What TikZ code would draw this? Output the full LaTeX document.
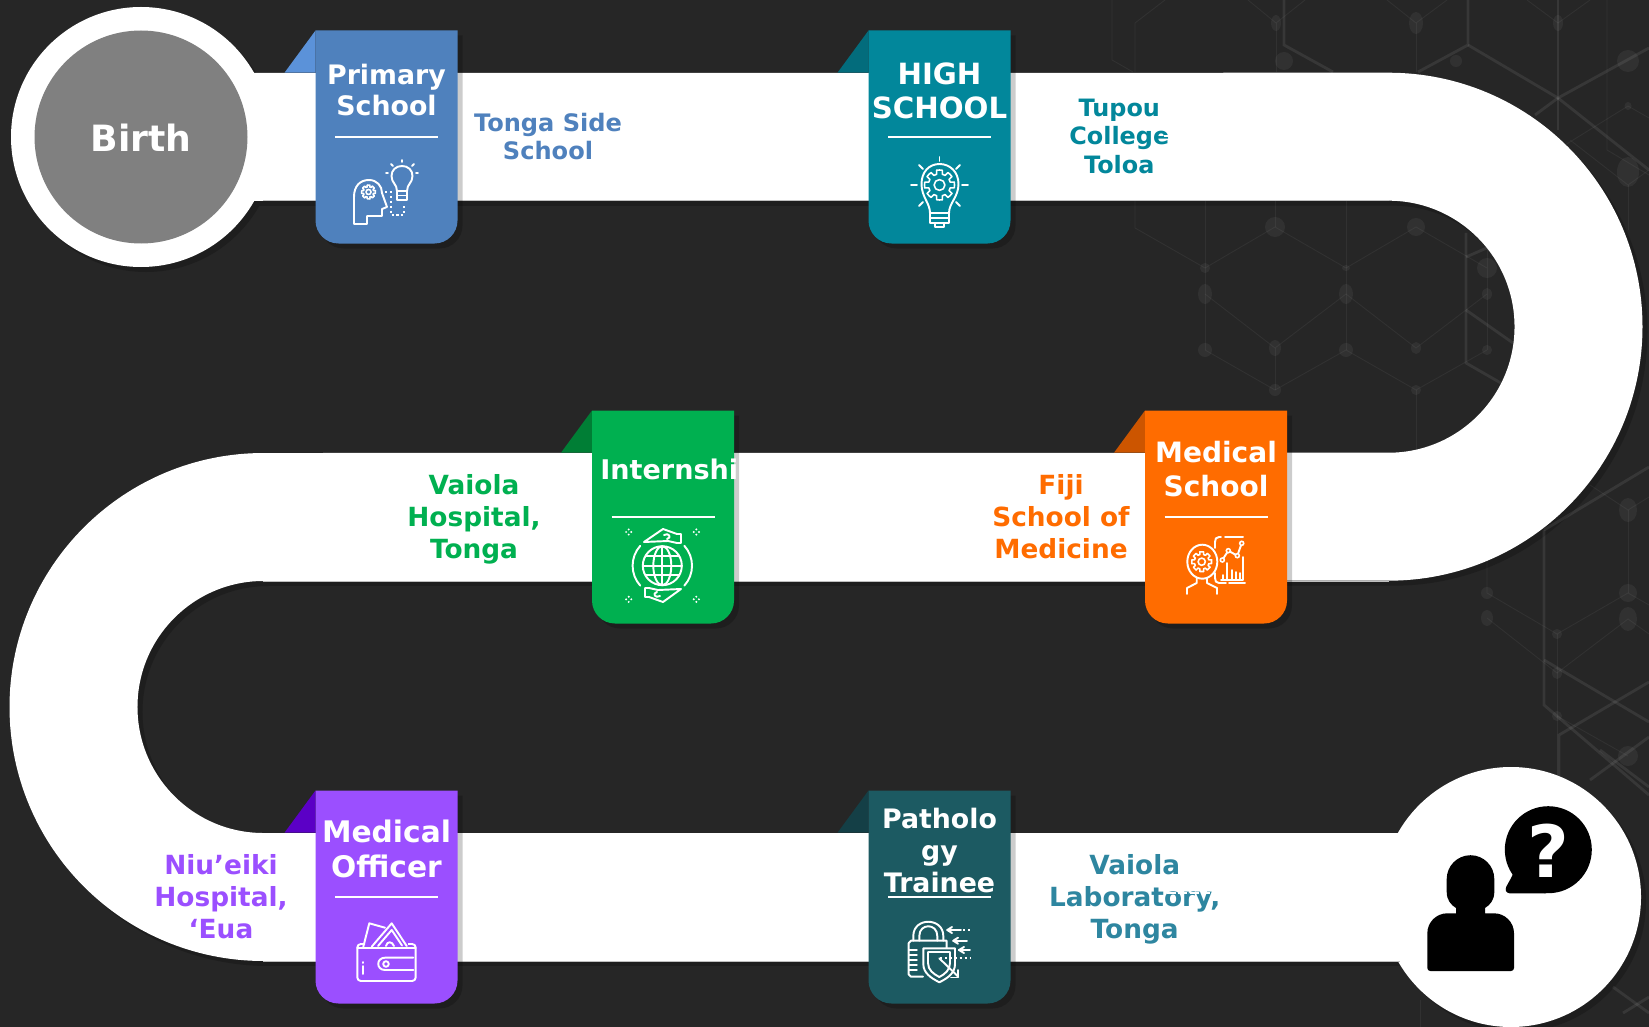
\documentclass[tikz,border=0pt]{standalone}
\usepackage{fontspec}
\setmainfont{DejaVu Sans}
\definecolor{bgdark}{HTML}{262626}
\definecolor{shadedark}{HTML}{1E1E1E}
\definecolor{birthgray}{HTML}{808080}
\definecolor{primaryblue}{HTML}{4F81BD}
\definecolor{primaryfold}{HTML}{5B92D9}
\definecolor{highteal}{HTML}{02879B}
\definecolor{highfold}{HTML}{036C7C}
\definecolor{interngreen}{HTML}{00B050}
\definecolor{internfold}{HTML}{007E35}
\definecolor{medorange}{HTML}{FF6C00}
\definecolor{medfold}{HTML}{CC5500}
\definecolor{officerpurple}{HTML}{9B4FFF}
\definecolor{officerfold}{HTML}{5B00C6}
\definecolor{pathteal}{HTML}{1C5A62}
\definecolor{pathfold}{HTML}{143F46}
\definecolor{labblue}{HTML}{2E86A0}
\tikzset{
	title/.style={white,inner sep=0,align=center,anchor=base},
	place/.style={inner sep=0,align=center,anchor=base},
	iconline/.style={white,line width=1.1pt,line cap=round,line join=round},
	dotline/.style={white,line width=1.1pt,dash pattern=on 1.2pt off 1.6pt},
	rulewhite/.style={white,line width=1.1pt},
	bgthin/.style={white,opacity=.05,line width=.5pt},
	bgthick/.style={white,opacity=.08,line width=1.6pt},
	bgdot/.style={white,opacity=.05},
	roadedge/.style={gray!50,line width=.5pt}
}
\newcommand{\roadpath}{(141,137) -- (1388.5,136.7) arc (-90:90:190) -- (263.5,517) arc (-90:-270:190) -- (1511,897)}
\newcommand{\ribbon}[4]{
	\begin{scope}[shift={(#1,#2)}]
		\fill[black,opacity=.2] (5,5) -- (147,5) -- (147,195) arc (0:90:23) -- (28,218) arc (90:180:23) -- cycle;
		\fill[#4] (-31,42.2) -- (0,0) -- (0,42.2) -- cycle;
		\fill[#3] (0,0) -- (142,0) -- (142,190) arc (0:90:23) -- (23,213) arc (90:180:23) -- cycle;
		\draw[rulewhite] (19.5,106.2) -- (122.5,106.2);
	\end{scope}
}
\newcommand{\gearicon}[3]{
	\foreach \a in {0,45,...,315}
		\draw[iconline,line width=.9pt] (#1,#2) ++(\a-11:#3) arc (\a-11:\a+11:#3) -- ($(#1,#2)+(\a+15:.74*#3)$) arc (\a+15:\a+30:.74*#3) -- ($(#1,#2)+(\a+34:#3)$);
	\draw[iconline,line width=.9pt] (#1,#2) circle (.36*#3);
}
\newcommand{\sparkle}[2]{
	\foreach \dx/\dy in {-2.6/0,2.6/0,0/-2.6,0/2.6}
		\fill[white] (#1+\dx,#2+\dy) circle (1.1);
}
\usetikzlibrary{calc}
\begin{document}
\begin{tikzpicture}[x=.02cm,y=-.02cm]
	\useasboundingbox (0,0) rectangle (1649,1027);
	\fill[bgdark] (0,0) rectangle (1649,1027);
	\begin{scope}[shift={(5,5)}]
		\draw[shadedark,line width=2.56cm] \roadpath;
		\fill[shadedark] (141,137) circle (130);
		\fill[shadedark] (1511,897) circle (130);
	\end{scope}
	\foreach \x/\y/\rx/\ry in {1276/23/5/8,1416/23/7/11,1558/23/5/8,1284/61/9/9,1456/61/6/6,1628/61/11/11,1628/106/3.5/4,1628/172/11/15,1275/227/10/10,1416/227/9/9,1205/268/5/5,1346/268/4/3,1487/268/10/10,1205/294/7/10,1346/294/7/10,1487/294/5/6,1205/350/7/7,1275/348/6/8,1346/350/7/7,1416/348/5/6,1487/350/5/5,1275/390/6/6,1416/390/5/5,1628/510/9/12,1487/593/6/6,1628/593/9/9,1487/618/6/8,1628/619/9/12,1557/634/5/5,1557/673/5/6,1557/716/5/5,1628/756/10/10}
		\fill[bgdot] (\x,\y) ellipse (\rx*.02cm and \ry*.02cm);
	\draw[bgthin] (1112,0) -- (1112,60) -- (1133,72);
	\draw[bgthin] (1135,72) -- (1135,23) -- (1165,0);
	\draw[bgthin] (1205,200) -- (1205,350);
	\draw[bgthin] (1276,23) -- (1248,0);
	\draw[bgthin] (1276,23) -- (1305,0);
	\draw[bgthin] (1276,23) -- (1276,72);
	\draw[bgthin] (1416,23) -- (1387,0);
	\draw[bgthin] (1416,23) -- (1447,0);
	\draw[bgthin] (1416,23) -- (1416,72);
	\draw[bgthin] (1558,23) -- (1527,0);
	\draw[bgthin] (1558,23) -- (1590,0);
	\draw[bgthin] (1628,106) -- (1565,145);
	\draw[bgthin] (1628,106) -- (1649,118);
	\draw[bgthin] (1607,0) -- (1607,150) -- (1649,175);
	\draw[bgthin] (1570,140) -- (1628,185) -- (1649,170);
	\draw[bgthin] (1628,185) -- (1628,230);
	\draw[bgthin] (1135,200) -- (1135,228) -- (1205,268) -- (1275,227) -- (1346,268) -- (1416,227) -- (1487,268);
	\draw[bgthin] (1205,294) -- (1275,348) -- (1346,294) -- (1416,348) -- (1487,294);
	\draw[bgthin] (1205,350) -- (1275,390) -- (1346,350) -- (1416,390) -- (1487,350);
	\draw[bgthin] (1275,200) -- (1275,227);
	\draw[bgthin] (1275,348) -- (1275,390);
	\draw[bgthin] (1346,200) -- (1346,350);
	\draw[bgthin] (1416,390) -- (1416,453);
	\draw[bgthin] (1487,230) -- (1487,350);
	\draw[bgthin] (1487,560) -- (1487,593) -- (1557,634) -- (1628,593) -- (1649,605);
	\draw[bgthin] (1487,618) -- (1557,673) -- (1628,619) -- (1649,634);
	\draw[bgthin] (1557,634) -- (1557,800);
	\draw[bgthin] (1557,716) -- (1628,756);
	\draw[bgthin] (1590,485) -- (1628,510) -- (1649,497);
	\draw[bgthin] (1628,510) -- (1628,593);
	\draw[bgthin] (1420,1000) -- (1420,1027);
	\draw[bgthick] (1284,0) -- (1284,45) -- (1333,72);
	\draw[bgthick] (1468,0) -- (1468,45) -- (1418,72);
	\draw[bgthick] (1468,45) -- (1558,98) -- (1649,48);
	\draw[bgthick] (1558,0) -- (1558,130);
	\draw[bgthick] (1558,98) -- (1649,170);
	\draw[bgthick] (1558,98) -- (1535,115);
	\draw[bgthick] (1466,233) -- (1466,363) -- (1513,390);
	\draw[bgthick] (1466,310) -- (1513,343);
	\draw[bgthick] (1466,257) -- (1489,247);
	\draw[bgthick] (1544,530) -- (1544,705) -- (1649,795);
	\draw[bgthick] (1544,530) -- (1649,467);
	\draw[bgthick] (1544,660) -- (1649,722);
	\draw[bgthick] (1559,790) -- (1559,735) -- (1649,682);
	\draw[bgthick] (1590,780) -- (1649,737);
	\draw[bgthick] (1600,750) -- (1649,787);
	\draw[bgthick] (1613,987) -- (1649,1013);
	\draw[bgthick] (1623,1013) -- (1649,997);
	\draw[white,line width=2.56cm] \roadpath;
	\fill[white] (141,137) circle (130);
	\fill[white] (1511,897) circle (130);
	\draw[roadedge] (263,200.7) -- (1389,200.7);
	\draw[roadedge] (263,581) -- (1389,581);
	\draw[roadedge] (263,961) -- (1400,961);
	\fill[birthgray] (141,137) circle (106.5);
	\node[title,font=\fontsize{20.6}{24}\selectfont\bfseries] (birth) at (141,151.5) {Birth};
	\ribbon{315.5}{30.5}{primaryblue}{primaryfold}
	\ribbon{868.5}{30.5}{highteal}{highfold}
	\ribbon{592}{410.5}{interngreen}{internfold}
	\ribbon{1145}{410.5}{medorange}{medfold}
	\ribbon{315.5}{790.5}{officerpurple}{officerfold}
	\ribbon{868.5}{790.5}{pathteal}{pathfold}
	\node[title,font=\fontsize{15.25}{18.2}\selectfont\bfseries] (primary) at (386.5,116) {Primary\\School};
	\node[title,font=\fontsize{16.65}{19.9}\selectfont\bfseries] (high) at (939.5,119) {HIGH\\SCHOOL};
	\node[title,anchor=base west,font=\fontsize{15.4}{18}\selectfont\bfseries] (intern) at (600,479.5) {Internship};
	\node[title,font=\fontsize{15.95}{19.3}\selectfont\bfseries] (medschool) at (1216,496.7) {Medical\\School};
	\node[title,font=\fontsize{16.9}{19.5}\selectfont\bfseries] (officer) at (386.5,877) {Medical\\Officer};
	\node[title,font=\fontsize{15.25}{18.2}\selectfont\bfseries] (pathology) at (939.5,892) {Patholo\\gy\\Trainee};
	\node[place,primaryblue,font=\fontsize{13.7}{16.4}\selectfont\bfseries] (tongaside) at (548,160) {Tonga Side\\School};
	\node[place,highteal,font=\fontsize{13.6}{16.4}\selectfont\bfseries] (tupou) at (1119.3,173.7) {Tupou\\College\\Toloa};
	\node[place,interngreen,font=\fontsize{15}{18.1}\selectfont\bfseries] (vaiola) at (474,558) {Vaiola\\Hospital,\\Tonga};
	\node[place,medorange,font=\fontsize{15}{18.1}\selectfont\bfseries] (fiji) at (1061,558) {Fiji\\School of\\Medicine};
	\node[place,officerpurple,font=\fontsize{15}{18.1}\selectfont\bfseries] (niueiki) at (221,938) {Niu’eiki\\Hospital,\\‘Eua};
	\node[place,labblue,font=\fontsize{15}{18.1}\selectfont\bfseries] (laboratory) at (1134.7,938) {Vaiola\\Laboratory,\\Tonga};
	\draw[white,line width=.9pt,dash pattern=on 5pt off 1.5pt] (1167,893) -- (1212,893);
	\draw[white,line width=.7pt] (1164,136) -- (1170,136);
	\draw[iconline] (354,224) -- (354,197) .. controls (354,186) and (360,180) .. (369,180) .. controls (377,180) and (382,186) .. (382,193) -- (387,207) -- (382,209) -- (382,216) -- (367,216) -- (367,224) -- cycle;
	\gearicon{368.5}{192}{7}
	\draw[iconline] (397,191) .. controls (397,184) and (391.5,183) .. (391.5,176) .. controls (391.5,170) and (396,166) .. (402,166) .. controls (408,166) and (412.5,170) .. (412.5,176) .. controls (412.5,183) and (407,184) .. (407,191) -- cycle;
	\draw[iconline] (397,191) rectangle (407,200);
	\draw[iconline] (397,195.5) -- (407,195.5);
	\draw[iconline] (402,160) -- (402,162);
	\draw[iconline] (391,164) -- (393,166);
	\draw[iconline] (414,164) -- (412,166);
	\draw[iconline] (386,173) -- (388,173);
	\draw[iconline] (416,173) -- (418,173);
	\draw[dotline] (385,192) -- (391,192) -- (391,215) -- (404,215) -- (404,205);
	\draw[iconline] (930,213) .. controls (930,203) and (921.5,197) .. (921.5,184) .. controls (921.5,172) and (929,164) .. (939.5,164) .. controls (950,164) and (958.5,172) .. (958.5,184) .. controls (958.5,197) and (949,203) .. (949,213) -- cycle;
	\gearicon{939.5}{185}{15}
	\draw[iconline] (930,213) rectangle (949,223);
	\draw[iconline] (930,218) -- (949,218);
	\draw[iconline] (935,223) -- (935,227) -- (944,227) -- (944,223);
	\draw[iconline] (939.5,157) -- (939.5,161);
	\draw[iconline] (911,185) -- (917,185);
	\draw[iconline] (962,185) -- (968,185);
	\draw[iconline] (919,165) -- (923,169);
	\draw[iconline] (960,165) -- (956,169);
	\draw[iconline] (919,206) -- (923,202);
	\draw[iconline] (960,206) -- (956,202);
	\draw[iconline] (662.3,565.7) circle (19.5);
	\draw[iconline] (662.3,565.7) ellipse (9 and 19.5);
	\draw[iconline] (662.3,546.2) -- (662.3,585.2);
	\draw[iconline] (642.8,565.7) -- (681.8,565.7);
	\draw[iconline] (645.5,556) -- (679,556);
	\draw[iconline] (645.5,575.4) -- (679,575.4);
	\draw[iconline] (662.3,565.7) ++(138:29.7) arc (138:222:29.7);
	\draw[iconline] (662.3,565.7) ++(-42:29.7) arc (-42:42:29.7);
	\draw[iconline] (644,542) -- (663,529) -- (677,534) -- (681,534) -- (681,543) -- (677,543) -- (668,541) -- cycle;
	\draw[iconline] (664,535) .. controls (669,532) and (672,538) .. (667,539);
	\draw[iconline] (681,589) -- (663,602) -- (649,597) -- (645,597) -- (645,588) -- (649,588) -- (658,590) -- cycle;
	\draw[iconline] (660,596) .. controls (655,599) and (652,593) .. (657,592);
	\sparkle{628.7}{532}
	\sparkle{696.3}{532}
	\sparkle{628.7}{599.3}
	\sparkle{696.3}{599.3}
	\draw[iconline] (1202.3,561.7) ellipse (15 and 17);
	\gearicon{1201.7}{561.7}{10}
	\draw[iconline] (1196.7,578) -- (1196.7,583) -- (1187,588) -- (1187,594);
	\draw[iconline] (1207,578) -- (1207,583) -- (1217,588) -- (1217,594);
	\draw[iconline] (1243,537) -- (1225,537);
	\draw[iconline] (1221,537) -- (1219,537) .. controls (1216,537) and (1215,539) .. (1215,542) -- (1215,548);
	\draw[iconline] (1215,573) -- (1215,578) .. controls (1215,581) and (1216,583) .. (1219,583) -- (1226,583);
	\draw[iconline] (1229,583) -- (1245,583);
	\draw[iconline] (1243.3,557) -- (1243.3,580) -- (1221,580);
	\draw[iconline] (1222.3,560) -- (1228.3,550.7) -- (1237.3,555.7) -- (1241.7,543.3);
	\foreach \x/\y in {1222.3/560,1228.3/550.7,1237.3/555.7,1241.7/543.3}
		\filldraw[draw=white,fill=medorange,line width=.9pt] (\x,\y) circle (2);
	\foreach \x/\y in {1223.3/575,1227.3/563,1231.7/570,1235.7/572,1240/573}
		\draw[iconline] (\x,\y) -- (\x,580);
	\draw[iconline,rounded corners=2pt] (357.3,944) rectangle (415.7,981);
	\draw[iconline] (357.3,948) -- (415.7,948);
	\fill[officerpurple] (366,940) rectangle (408,947);
	\draw[iconline,fill=officerpurple] (363.3,946.7) -- (369.3,923.3) -- (385,927.7);
	\draw[iconline,fill=officerpurple] (371.7,946.7) -- (391.7,923.3) -- (406.7,946);
	\draw[iconline] (378,946) -- (391.7,930) -- (402,945.5);
	\draw[iconline] (386,946) .. controls (387,941) and (392,941) .. (394,946);
	\draw[iconline,fill=officerpurple] (413.3,957.7) -- (385,957.7) .. controls (376,957.7) and (376,970) .. (385,970) -- (413.3,970);
	\draw[iconline] (386,964) circle (2.8);
	\draw[iconline] (363.3,962) -- (363.3,963);
	\draw[iconline] (363.3,966) -- (363.3,974);
	\draw[iconline] (913.3,940.7) -- (913.3,936) .. controls (913.3,917) and (943.3,917) .. (943.3,936) -- (943.3,940.7);
	\draw[iconline] (919.3,940.7) -- (919.3,936) .. controls (919.3,923) and (937.3,923) .. (937.3,936) -- (937.3,940.7);
	\draw[iconline] (923,976.7) -- (911,976.7) -- (908.7,974.5) -- (908.7,943) -- (911,940.7) -- (946.7,940.7) -- (946.7,948);
	\foreach \y in {950,955,960,965,970}
		\draw[iconline,line width=.8pt] (909,\y) -- (917,\y);
	\draw[iconline,fill=pathteal] (923.3,948.3) -- (955,948.3) -- (955,964) .. controls (955,973) and (948,978) .. (939.3,982.3) .. controls (931,978) and (923.3,973) .. (923.3,964) -- cycle;
	\draw[iconline] (928,952) -- (950,952) -- (950,963) .. controls (950,970) and (945,974) .. (939.3,977) .. controls (933.5,974) and (928,970) .. (928,963) -- cycle;
	\draw[iconline] (947.3,930) -- (961,930);
	\draw[iconline] (947.3,930) -- (952,927);
	\draw[iconline] (947.3,930) -- (952,933);
	\draw[dotline] (963,930) -- (970,930);
	\draw[iconline] (953.3,940.7) -- (967,940.7);
	\draw[iconline] (953.3,940.7) -- (958,937.7);
	\draw[iconline] (953.3,940.7) -- (958,943.7);
	\draw[iconline] (959,950) -- (970,950);
	\draw[iconline] (959,950) -- (964,947);
	\draw[iconline] (959,950) -- (964,953);
	\draw[dotline] (940,958.3) -- (970,958.3);
	\draw[iconline] (939.3,958.3) -- (958.3,976.7);
	\draw[iconline] (958.3,970) -- (958.3,977.5) -- (951,977.5);
	\fill[black] (1446.7,879) arc (180:360:23.8) -- (1494.3,892) .. controls (1494.3,900) and (1490,905) .. (1485,908) -- (1485,913.3) -- (1494,913.3) arc (-90:0:20) -- (1514,968) arc (0:90:3) -- (1430.3,971) arc (90:180:3) -- (1427.3,933.3) arc (180:270:20) -- (1456,913.3) -- (1456,908) .. controls (1451,905) and (1446.7,900) .. (1446.7,892) -- cycle;
	\fill[black] (1548.3,849.7) circle (43.5);
	\fill[black,rounded corners=1.5pt] (1514,870) -- (1512.7,875) -- (1505,889) -- (1507,893.3) -- (1548,893.3) -- cycle;
	\node[white,inner sep=0,font=\fontsize{41}{41}\selectfont\bfseries] (query) at (1548.3,851) {?};
\end{tikzpicture}
\end{document}
